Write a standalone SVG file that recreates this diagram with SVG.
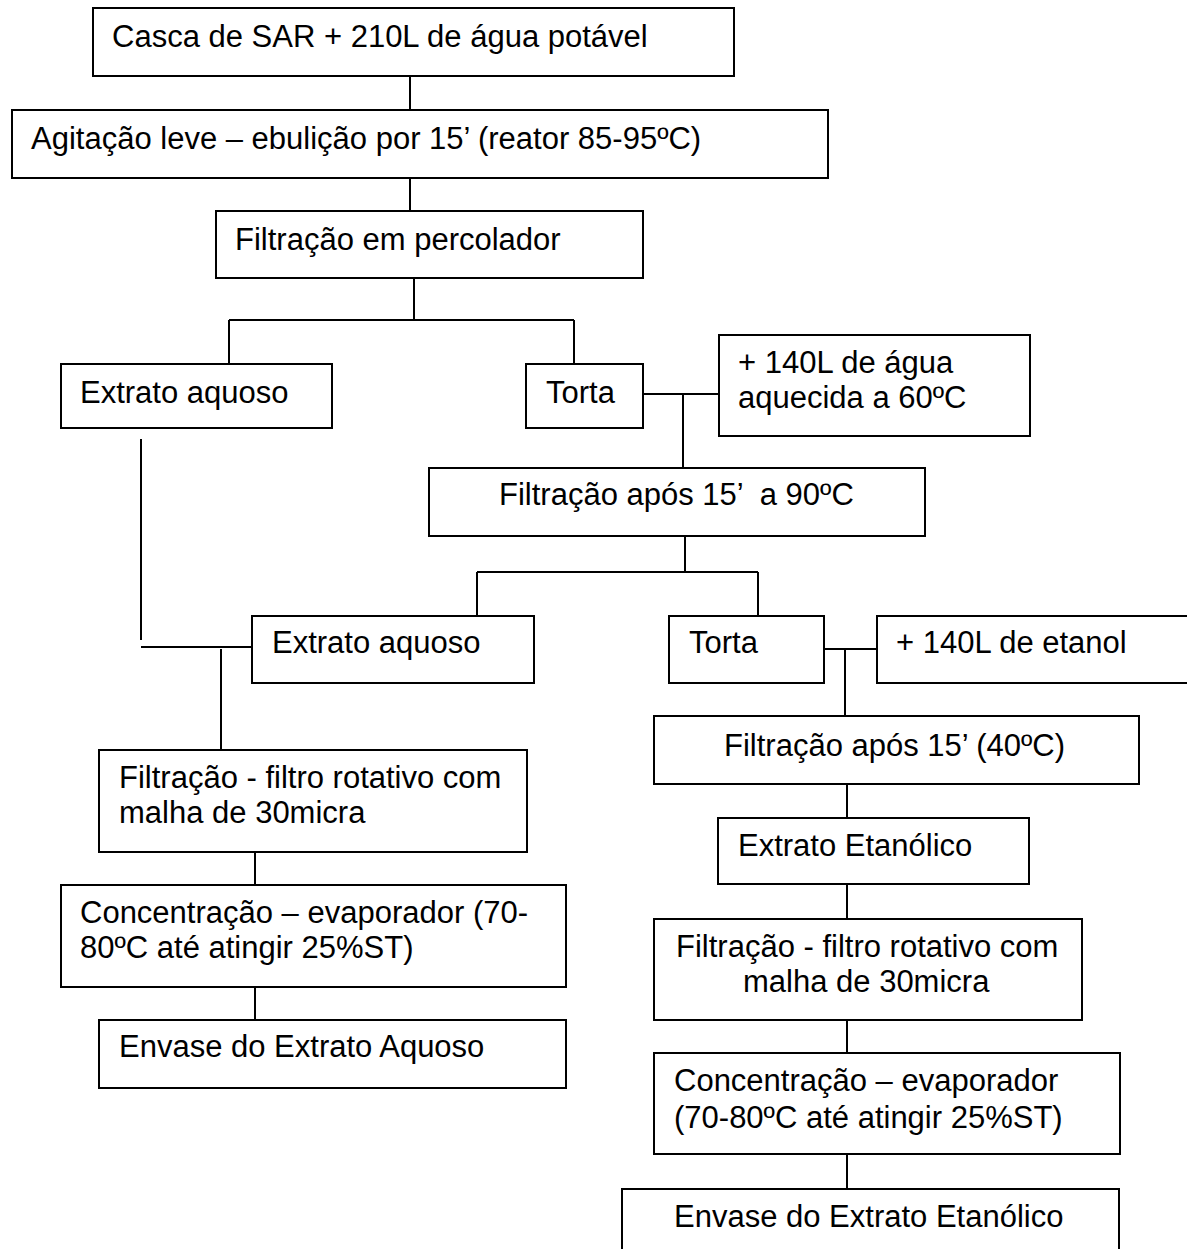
<svg xmlns="http://www.w3.org/2000/svg" width="1187" height="1249" viewBox="0 0 1187 1249">
<style>
  .box { fill: #fff; stroke: #000; stroke-width: 2; }
  .conn { fill: none; stroke: #000; stroke-width: 2; }
  text { font-family: "Liberation Sans", Arial, sans-serif; font-size: 31px; fill: #000; white-space: pre; }
</style>
<rect width="1187" height="1249" fill="#fff"/>
<g id="connectors">
  <path class="conn" d="M410 76V110 M410 178V211"/>
  <path class="conn" d="M414 278V320 M229 320H574 M229 320V364 M574 320V364"/>
  <path class="conn" d="M643 394H719 M683 394V468"/>
  <path class="conn" d="M685 536V572 M477 572H758 M477 572V616 M758 572V616"/>
  <path class="conn" d="M824 649H877 M845 649V716"/>
  <path class="conn" d="M141 439V640 M141 647H252 M221 649V750"/>
  <path class="conn" d="M255 852V885 M255 987V1020"/>
  <path class="conn" d="M847 784V818 M847 884V919 M847 1020V1053 M847 1154V1189"/>
</g>
<g id="n1"><rect class="box" x="93" y="8" width="641" height="68"/><text x="112" y="47">Casca de SAR + 210L de água potável</text></g>
<g id="n2"><rect class="box" x="12" y="110" width="816" height="68"/><text x="31" y="149">Agitação leve – ebulição por 15’ (reator 85-95ºC)</text></g>
<g id="n3"><rect class="box" x="216" y="211" width="427" height="67"/><text x="235" y="250">Filtração em percolador</text></g>
<g id="n4"><rect class="box" x="61" y="364" width="271" height="64"/><text x="80" y="403">Extrato aquoso</text></g>
<g id="n5"><rect class="box" x="526" y="364" width="117" height="64"/><text x="546" y="403">Torta</text></g>
<g id="n6"><rect class="box" x="719" y="335" width="311" height="101"/><text x="738" y="373">+ 140L de água</text><text x="738" y="408">aquecida a 60ºC</text></g>
<g id="n7"><rect class="box" x="429" y="468" width="496" height="68"/><text x="499" y="505">Filtração após 15’  a 90ºC</text></g>
<g id="n8"><rect class="box" x="252" y="616" width="282" height="67"/><text x="272" y="653">Extrato aquoso</text></g>
<g id="n9"><rect class="box" x="669" y="616" width="155" height="67"/><text x="689" y="653">Torta</text></g>
<g id="n10"><rect class="box" x="877" y="616" width="330" height="67"/><text x="896" y="653">+ 140L de etanol</text></g>
<g id="n11"><rect class="box" x="99" y="750" width="428" height="102"/><text x="119" y="788">Filtração - filtro rotativo com</text><text x="119" y="823">malha de 30micra</text></g>
<g id="n12"><rect class="box" x="61" y="885" width="505" height="102"/><text x="80" y="923">Concentração – evaporador (70-</text><text x="80" y="958">80ºC até atingir 25%ST)</text></g>
<g id="n13"><rect class="box" x="99" y="1020" width="467" height="68"/><text x="119" y="1057">Envase do Extrato Aquoso</text></g>
<g id="n14"><rect class="box" x="654" y="716" width="485" height="68"/><text x="724" y="756">Filtração após 15’ (40ºC)</text></g>
<g id="n15"><rect class="box" x="718" y="818" width="311" height="66"/><text x="738" y="856">Extrato Etanólico</text></g>
<g id="n16"><rect class="box" x="654" y="919" width="428" height="101"/><text x="676" y="957">Filtração - filtro rotativo com</text><text x="743" y="992">malha de 30micra</text></g>
<g id="n17"><rect class="box" x="654" y="1053" width="466" height="101"/><text x="674" y="1091">Concentração – evaporador</text><text x="674" y="1128">(70-80ºC até atingir 25%ST)</text></g>
<g id="n18"><rect class="box" x="622" y="1189" width="497" height="100"/><text x="674" y="1227">Envase do Extrato Etanólico</text></g>
</svg>
